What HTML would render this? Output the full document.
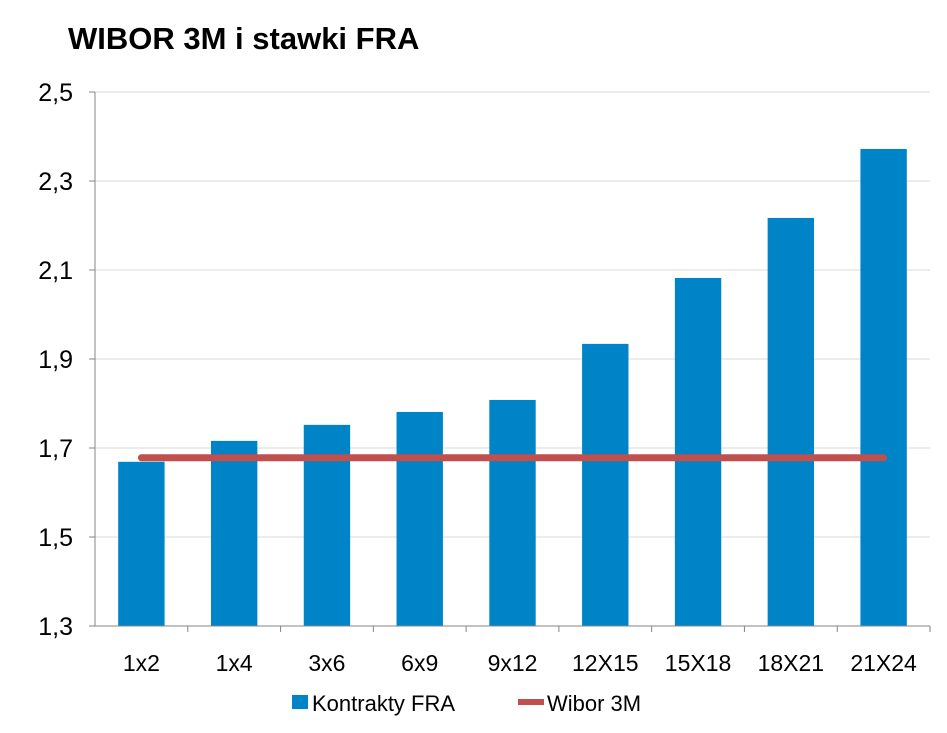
<!DOCTYPE html>
<html><head><meta charset="utf-8"><style>
body{margin:0;background:#fff;}
svg text{font-family:"Liberation Sans","DejaVu Sans",sans-serif;}
</style></head><body>
<svg id="chart" width="947" height="728" xmlns="http://www.w3.org/2000/svg">
<rect width="947" height="728" fill="#fff"/>
<text x="68" y="49" font-size="31" font-weight="bold" fill="#000">WIBOR 3M i stawki FRA</text>
<g id="grid"></g><g id="bars"></g><g id="axes"></g><g id="line"></g>
<g>
<rect x="292" y="695" width="16" height="14" fill="#0084C8"/>
<text x="312" y="711" font-size="22" fill="#000">Kontrakty FRA</text>
<line x1="518" y1="702" x2="544" y2="702" stroke="#C0504D" stroke-width="6"/>
<text x="547" y="711" font-size="22" fill="#000">Wibor 3M</text>
</g>
</svg>
<script>
const categories=["1x2","1x4","3x6","6x9","9x12","12X15","15X18","18X21","21X24"];
const fraValues=[1.669,1.716,1.752,1.781,1.808,1.934,2.082,2.217,2.372];
const wiborValues=[1.678,1.678,1.678,1.678,1.678,1.678,1.678,1.678,1.678];
const yTicks=[1.3,1.5,1.7,1.9,2.1,2.3,2.5];
const yTickLabels=["1,3","1,5","1,7","1,9","2,1","2,3","2,5"];
const NS="http://www.w3.org/2000/svg";
const x0=95,x1=930,yMin=1.3,yMax=2.5,py0=626,py1=92;
const band=(x1-x0)/categories.length;
const yS=v=>py0-(v-yMin)/(yMax-yMin)*(py0-py1);
const xC=i=>x0+band*(i+0.5);
function mk(t,a,p){const e=document.createElementNS(NS,t);for(const k in a)e.setAttribute(k,a[k]);p.appendChild(e);return e;}
const grid=document.getElementById('grid'),bars=document.getElementById('bars'),axes=document.getElementById('axes'),line=document.getElementById('line');
yTicks.forEach((v,i)=>{
 const y=yS(v);
 if(i>0){const g=mk('line',{x1:x0,x2:x1,y1:y,y2:y,stroke:'#D9D9D9','stroke-width':1},grid);
 
 }
 const tk=mk('line',{x1:x0-6,x2:x0,y1:y,y2:y,stroke:'#868686'},axes);
 
 
 const t=mk('text',{x:x0-22,y:y+9,'font-size':25,'text-anchor':'end',fill:'#000'},axes);
 t.textContent=yTickLabels[i];
 
 
});
const ya=mk('line',{x1:x0,x2:x0,y1:py1,y2:py0,stroke:'#868686'},axes);


const xa=mk('line',{x1:x0,x2:x1,y1:py0,y2:py0,stroke:'#868686'},axes);


categories.forEach((c,i)=>{
 const bw=band*0.5,y=yS(fraValues[i]);
 const b=mk('rect',{x:xC(i)-bw/2,y:y,width:bw,height:py0-y,fill:'#0084C8'},bars);
 
 
 const tk=mk('line',{x1:x0+band*(i+1),x2:x0+band*(i+1),y1:py0,y2:py0+6,stroke:'#868686'},axes);
 
 
 const t=mk('text',{x:xC(i),y:671,'font-size':23,'text-anchor':'middle',fill:'#000'},axes);
 t.textContent=c;
 
 
});
const pts=wiborValues.map((v,i)=>xC(i)+','+yS(v)).join(' ');
const pl=mk('polyline',{points:pts,fill:'none',stroke:'#C0504D','stroke-width':7,'stroke-linecap':'round'},line);


</script>
</body></html>
